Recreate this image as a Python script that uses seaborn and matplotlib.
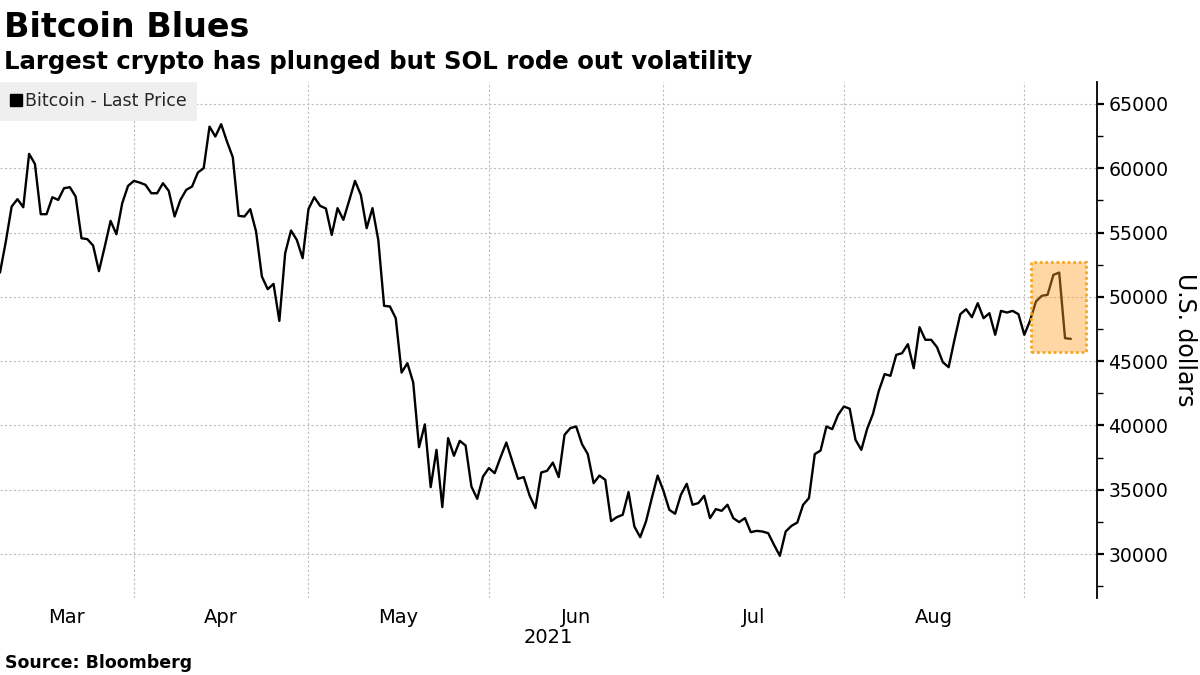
import numpy as np
import pandas as pd
import matplotlib
matplotlib.use("Agg")
import matplotlib.pyplot as plt
import matplotlib.dates as mdates
import seaborn as sns
from matplotlib.patches import Rectangle
from matplotlib.lines import Line2D
from matplotlib.ticker import MultipleLocator, FixedLocator

# ---------------- data ----------------
start_date = "2021-03-09"
prices = [
    51890, 54300, 57020, 57600, 56970, 61120, 60340, 56430, 56430, 57750,
    57540, 58450, 58530, 57800, 54560, 54490, 53990, 52000, 53910, 55910,
    54870, 57280, 58630, 59020, 58890, 58710, 58060, 58060, 58840, 58240,
    56250, 57540, 58320, 58580, 59670, 60010, 63240, 62470, 63430, 62080,
    60860, 56300, 56250, 56820, 55080, 51580, 50600, 51010, 48130, 53400,
    55160, 54430, 53010, 56820, 57750, 57080, 56870, 54820, 56900, 55990,
    57490, 59020, 57930, 55340, 56900, 54430, 49300, 49250, 48340, 44110,
    44840, 43340, 38310, 40080, 35200, 38100, 33650, 39010, 37640, 38800,
    38440, 35250, 34290, 36030, 36680, 36290, 37510, 38670, 37250, 35850,
    35980, 34550, 33570, 36340, 36470, 37110, 35980, 39270, 39790, 39920,
    38550, 37770, 35510, 36100, 35770, 32560, 32870, 33050, 34810, 32140,
    31310, 32530, 34350, 36100, 34910, 33440, 33130, 34610, 35460, 33830,
    33960, 34530, 32790, 33490, 33360, 33830, 32790, 32480, 32790, 31700,
    31800, 31750, 31620, 30710, 29860, 31750, 32190, 32450, 33830, 34350,
    37770, 38050, 39920, 39710, 40820, 41470, 41300, 38880, 38100, 39740,
    40900, 42690, 43990, 43860, 45490, 45620, 46320, 44450, 47640, 46660,
    46660, 46090, 44920, 44530, 46660, 48650, 49040, 48420, 49510, 48340,
    48730, 47050, 48910, 48780, 48910, 48650, 47050, 48160, 49640, 50080,
    50160, 51710, 51890, 46790, 46730,
]
dates = pd.date_range(start_date, periods=len(prices), freq="D")
month_labels = ["Mar", "Apr", "May", "Jun", "Jul", "Aug"]
month_starts = ["2021-03-01", "2021-04-01", "2021-05-01", "2021-06-01",
                "2021-07-01", "2021-08-01", "2021-09-01"]
year_label = "2021"
y_ticks = [30000, 35000, 40000, 45000, 50000, 55000, 60000, 65000]
series_name = "Bitcoin - Last Price"
title = "Bitcoin Blues"
subtitle = "Largest crypto has plunged but SOL rode out volatility"
source = "Source: Bloomberg"
y_label = "U.S. dollars"

# highlight box (annotation)
box_x = ("2021-09-02 04:00", "2021-09-11 14:00")
box_y = (45750, 52700)

# ---------------- plot ----------------
sns.set_style("white")
plt.rcParams["font.family"] = ["DejaVu Sans"]

fig = plt.figure(figsize=(12, 6.75), dpi=100)
ax = fig.add_axes([0.0, 0.1141, 0.9142, 0.7644])

df = pd.DataFrame({"date": dates, "price": prices})
sns.lineplot(data=df, x="date", y="price", color="black", lw=1.7, ax=ax,
             legend=False, zorder=2)

xlo = pd.Timestamp("2021-03-09")
xhi = pd.Timestamp("2021-09-13 12:00")
ax.set_xlim(xlo, xhi)
ax.set_ylim(26580, 66710)

# x axis: grid at month starts, labels centred in each month
ms = [pd.Timestamp(m) for m in month_starts]
ax.xaxis.set_major_locator(FixedLocator(mdates.date2num(ms)))
ax.xaxis.set_major_formatter(plt.NullFormatter())
mids = []
for a, b in zip(ms[:-1], ms[1:]):
    a2, b2 = max(a, xlo), min(b, xhi)
    mids.append(mdates.date2num(a2) + (mdates.date2num(b2) - mdates.date2num(a2)) / 2)
ax.set_xticks(mids, minor=True)
ax.set_xticklabels(month_labels, minor=True)
ax.tick_params(axis="x", which="both", length=0)
ax.tick_params(axis="x", which="minor", labelsize=14, pad=7, colors="black")
ax.set_xlabel(year_label, fontsize=14, labelpad=1, color="black")

# y axis on the right
ax.yaxis.tick_right()
ax.set_yticks(y_ticks)
ax.set_yticklabels([str(v) for v in y_ticks])
ax.yaxis.set_minor_locator(MultipleLocator(2500))
ax.tick_params(axis="y", which="major", direction="out", length=5, width=1.6,
               labelsize=13.6, pad=3, colors="black")
ax.tick_params(axis="y", which="minor", direction="out", length=4, width=1.0,
               color="black")
ax.set_ylabel(y_label, fontsize=17, rotation=270, color="black",
              ha="center", va="center")
ax.yaxis.set_label_position("right")
ax.yaxis.set_label_coords(1.0802, 0.5)
ax.yaxis.label.set_verticalalignment("center")

for s in ["left", "top", "bottom"]:
    ax.spines[s].set_visible(False)
ax.spines["right"].set_color("black")
ax.spines["right"].set_linewidth(1.3)

ax.grid(which="major", axis="both", color="#bdbdbd", linestyle=(0, (2, 2)),
        linewidth=0.8)
ax.set_axisbelow(True)

# highlight box
bx0, bx1 = mdates.date2num(pd.Timestamp(box_x[0])), mdates.date2num(pd.Timestamp(box_x[1]))
ax.add_patch(Rectangle((bx0, box_y[0]), bx1 - bx0, box_y[1] - box_y[0],
                       facecolor=(1.0, 0.63, 0.16, 0.42), edgecolor="#f5a623",
                       linestyle=(0, (1, 1)), linewidth=2.0, zorder=3))

# legend
handle = Line2D([], [], marker="s", color="black", linestyle="none", markersize=8)
leg = ax.legend([handle], [series_name], loc="upper left", bbox_to_anchor=(0, 1),
                borderaxespad=0, frameon=True, fancybox=False, facecolor="#efefef",
                edgecolor="none", framealpha=1, fontsize=12.5, handlelength=0.6,
                handletextpad=0.25, borderpad=0.6)

# titles & source
fig.text(0.003, 1 - 37 / 675, title, fontsize=24, fontweight="bold",
         va="baseline", ha="left", color="black")
fig.text(0.003, 1 - 69 / 675, subtitle, fontsize=17.6, fontweight="bold",
         va="baseline", ha="left", color="black")
fig.text(0.004, 1 - 668 / 675, source, fontsize=12.5, fontweight="bold",
         va="baseline", ha="left", color="black")

fig.savefig("out.png", dpi=100)
